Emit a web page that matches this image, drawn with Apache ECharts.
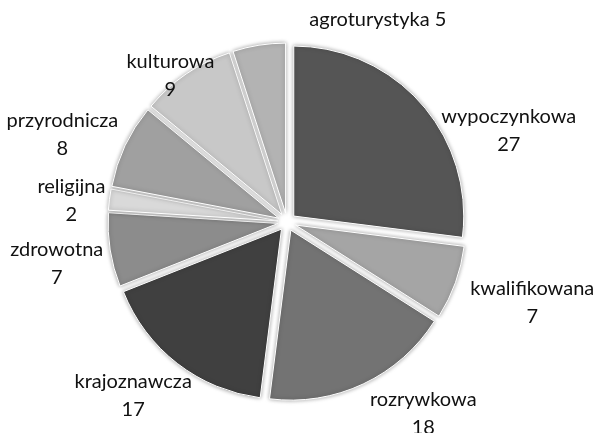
<!DOCTYPE html>
<html>
<head>
<meta charset="utf-8">
<script src="https://cdn.jsdelivr.net/npm/echarts@6/dist/echarts.min.js"></script>
<style>html,body{margin:0;padding:0;background:#fff}#c{width:606px;height:433px}</style>
</head>
<body>
<div id="c"></div>
<script>
const categories = ['wypoczynkowa','kwalifikowana','rozrywkowa','krajoznawcza','zdrowotna','religijna','przyrodnicza','kulturowa','agroturystyka'];
const values = [27, 7, 18, 17, 7, 2, 8, 9, 5];
const colors = ['#555555','#a5a5a5','#737373','#404040','#8c8c8c','#d9d9d9','#a0a0a0','#c8c8c8','#b3b3b3'];
// label nudges (layout only)
const labelNudge = [[12,30],[6,19],[0,26],[22,29],[-3,12],[0,1],[-3,-10],[42,-3],[193,-22]];

const chart = echarts.init(document.getElementById('c'));
const data = categories.map((n, i) => ({
  name: n,
  value: values[i],
  selected: true,
  itemStyle: { color: colors[i] }
}));
chart.setOption({
  animation: false,
  series: [{
    type: 'pie',
    center: [287, 222],
    radius: [0, 170],
    startAngle: 90,
    clockwise: true,
    selectedMode: 'multiple',
    selectedOffset: 9,
    data: data,
    itemStyle: { borderColor: '#fff', borderWidth: 1, shadowBlur: 4, shadowColor: 'rgba(0,0,0,0.35)' },
    label: {
      show: true,
      position: 'outside',
      formatter: p => p.name === 'agroturystyka' ? '{a|' + p.name + ' ' + p.value + '}' : '{a|' + p.name + '}\n{a|' + p.value + '}',
      rich: { a: { fontFamily: 'Lato', fontSize: 20, color: '#111', lineHeight: 28, align: 'center' } }
    },
    labelLine: { show: false, length: 4, length2: 0 },
    labelLayout: p => ({ dx: labelNudge[p.dataIndex][0], dy: labelNudge[p.dataIndex][1] }),
    emphasis: { disabled: true }
  }]
});
</script>
</body>
</html>
